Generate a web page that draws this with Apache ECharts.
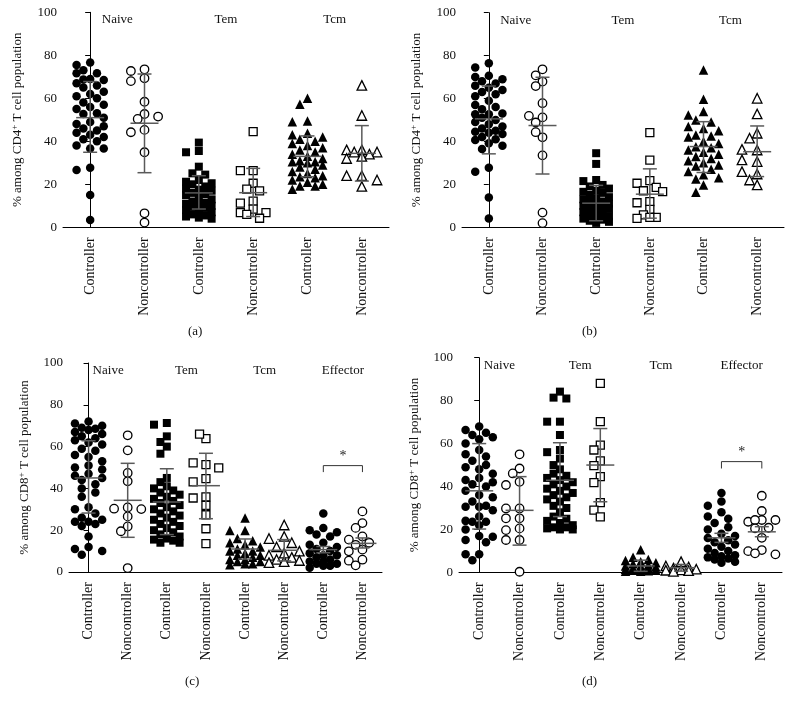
<!DOCTYPE html>
<html><head><meta charset="utf-8">
<script src="https://cdn.jsdelivr.net/npm/echarts@6/dist/echarts.min.js"></script>
<style>html,body{margin:0;padding:0;background:#fff}#c{width:794px;height:705px}</style>
</head><body><div id="c"></div>
<script>
// ---------- categories / labels ----------
const xCats = ['Controller', 'Noncontroller'];
const groups3 = ['Naive', 'Tem', 'Tcm'];
const groups4 = ['Naive', 'Tem', 'Tcm', 'Effector'];
const nameCD4 = '{t|% among CD4}{s|+}{t| T cell population}';
const nameCD8 = '{t|% among CD8}{s|+}{t| T cell population}';
const captions = ['(a)', '(b)', '(c)', '(d)'];

// ---------- panel (a): CD4 ----------
const a_naive_ctrl = [76.6,75.5,73,71.6,71.6,69,68.5,68.8,67,66,65,63,62,61,60,58,57,56,55,53,52.7,51,49,48,47,46,45,44,43,42,41,40,38,36.7,36.7,27.7,26.6,15,3.4];
const a_naive_non  = [73.5,72.7,69.3,68,58.4,52.7,50.4,51.5,45.3,44.2,34.9,6.5,2.2];
const a_tem_ctrl   = [39.4,35.5,34.9,28.2,25.1,24.5,22,21.2,20.5,20,19,18,17.5,17,16,15.5,15,14,13,12,11.5,11,10.5,10,9.5,9,8,7.5,7,6,5.5,5,4.5,4];
const a_tem_non    = [44.5,26.4,26.4,20.5,17.8,16.9,12.2,11.2,8.5,6.8,6.8,6,4.2];
const a_tcm_ctrl   = [60,57.2,49.5,49.1,43.7,43,42,41,40,39,38,37,36,35,34,33,32,31,30.5,30.5,30,29,28,27,26,25,24,23.5,23,22,21,20,19.2,19.2,17.7];
const a_tcm_non    = [66,52,36,36,35,35,34,33,32,24,24,22,19];
const a_bars = [[51,34.9,67.8],[48.4,25.4,71.3],[16,8.5,24],[16.1,5,27.4],[33,23.5,42.5],[34.4,21.5,47.3]];

// ---------- panel (b): CD4 ----------
const b_naive_ctrl = [76.4,74.4,70.6,70,69,68,67,66,65,64,63,62,61,59,57,56,55,53,52.6,52.6,51,50,49,48,47,46,45,44.5,44,43.5,42,41,40.6,39.1,38,36.5,27.7,25.9,13.8,4.1];
const b_naive_non  = [67.9,73.6,70.8,65.8,57.8,51.2,51.9,48.8,41.9,44.3,33.5,6.8,1.9];
const b_tem_ctrl   = [34.5,29.5,22,21.5,19.7,19,18,17,16.5,16,15,14,13.5,13,12,11.5,11,10.5,10,9.5,9,8.5,8,7,6.5,6,5,4.5,4,3.5,3,2.5,2];
const b_tem_non    = [44.1,31.3,21.7,20.5,18.6,17,16.6,11.9,11.4,8.3,5.7,4.6,4.1,4.6];
const b_tcm_ctrl   = [73.3,59.6,53.9,52.3,50,49,47,46,45,43,42.5,42,40,39,37.5,37,36,35,34,33,32,31,30,29,28.5,27,26,24.4,23,22.5,19.7,16.3];
const b_tcm_non    = [60.1,52.8,43.8,41.5,36,36.3,30.6,31.4,24.8,25.9,22,19.7];
const b_bars = [[50.5,34.2,65.8],[47.4,24.8,69.9],[11.2,3,19.5],[15.4,4.2,27.2],[37.6,25.5,49.2],[35.2,23.6,47.2]];

// ---------- panel (c): CD8 ----------
const c_naive_ctrl = [72,71,70,69,68.5,68,67,66,65,64,63,62,61,59,58,56,55,53,51,50,49,47,46,45,44,42,40,38,36,31,30,28,26,25,24,24,23,22,17,12,11,10,8.3];
const c_naive_non  = [65.4,58.2,47.4,43.4,30.9,30.3,30.1,26.6,21.8,19.5,1.9];
const c_tem_ctrl   = [71.3,70.5,64.9,62.2,60,56.6,45,43,41,40,39,38,37,36,35,34,33,32,31,30,29,28,27,26,25,24,23,22,21,20,19,18,17,16,15.5,15,14,14];
const c_tem_non    = [63.8,66,51.4,52.2,49.8,44.7,43.1,35.9,35.4,31.9,27.4,20.7,13.6];
const c_tcm_ctrl   = [25.8,19.8,19.8,16,15,14,13,12,11,10,10,9,8,8,7,6,6,5,5,4,4,3.5];
const c_tcm_non    = [22.5,17,16,14,12,10,9,8,7,6,5.5,5,4.5];
const c_eff_ctrl   = [28,21,20,19,18,17,14,13,12,11,10,9,8,8,7,6,5,5,4,4,3,3,2];
const c_eff_non    = [29,23.4,21.1,17,15.5,14,13,10.7,9.9,5.9,5.4,3.2];
const c_bars = [[45,28.2,62.8],[34.3,16.6,52],[33.5,17.9,49.4],[41.3,25.5,56.8],[11,6.2,15.8],[10.4,5.3,15.5],[10.7,9.2,12.2],[13.7,11.5,16.3]];
const c_bracket = [6, 7, 50.9, 47.8];

// ---------- panel (d): CD8 ----------
const d_naive_ctrl = [67.9,66.3,65,64,63,62,60,57,55,54,52,50,49,48,46,44,43,42,41,40,38,36,35,33,31,30.6,30.6,29,26,24,23.6,23.6,22,20,17,16.6,15.1,14,8.4,8.4,5.7];
const d_naive_non  = [55,48.4,46.1,42.2,40.7,29.8,29.8,25.2,25.2,20.5,19.7,15.1,15.1,0.3];
const d_tem_ctrl   = [84.2,81.4,81,70.2,70.2,64,57,56,53,50,48,46,45,44,43,42,41,40,39,38,37,36,35,34,33,31,30,28,26,25,24,23,22,21,21,20.5,20,20];
const d_tem_non    = [88,70.2,59.3,57,51.9,49.7,44.6,41.8,32.5,29,25.9];
const d_tcm_ctrl   = [10.5,7,6,5.5,5,4.5,4,3.5,3,3,2.5,2,2,1.5,1.5,1,1,0.8,0.5,0.5];
const d_tcm_non    = [5,3,2.5,2,1.5,1.2,1,0.8,0.5];
const d_eff_ctrl   = [37,33,31,28,26,25,23,21,20,18,17,16,15,14,13,12,11,10,9,8,7.5,7,6.5,6,5,4.5];
const d_eff_non    = [35.7,28.6,24.4,23.6,24.4,24.4,20.8,20.5,16.1,10.4,9.9,8.4,8.9];
const d_bars = [[38,20.2,60],[28.9,12.7,44.6],[42.9,26,60.4],[50,32.9,67],[3,0.5,5.7],[2.2,0.6,3.7],[16.1,14,18.2],[18.9,16.6,21.3]];
const d_bracket = [6, 7, 51.6, 48.4];

// ---------- layout ----------
const FONT = 'Liberation Serif';
const symbols = ['circle', 'rect', 'triangle', 'circle'];
const symSize = {circle: 8.5, rect: 8, triangle: 9.5};
const panels = [
  {grid:{left:63, top:12.3, width:326, height:215}, groups:groups3, yName:nameCD4, nameGap:38,
   series:[a_naive_ctrl,a_naive_non,a_tem_ctrl,a_tem_non,a_tcm_ctrl,a_tcm_non], bars:a_bars, bracket:null, cap:[196,333]},
  {grid:{left:462, top:12.7, width:322, height:214.5}, groups:groups3, yName:nameCD4, nameGap:38,
   series:[b_naive_ctrl,b_naive_non,b_tem_ctrl,b_tem_non,b_tcm_ctrl,b_tcm_non], bars:b_bars, bracket:null, cap:[590,333]},
  {grid:{left:69, top:363, width:313, height:209}, groups:groups4, yName:nameCD8, nameGap:37,
   series:[c_naive_ctrl,c_naive_non,c_tem_ctrl,c_tem_non,c_tcm_ctrl,c_tcm_non,c_eff_ctrl,c_eff_non], bars:c_bars, bracket:c_bracket, cap:[193,683]},
  {grid:{left:459, top:357.7, width:323, height:214.7}, groups:groups4, yName:nameCD8, nameGap:37,
   series:[d_naive_ctrl,d_naive_non,d_tem_ctrl,d_tem_non,d_tcm_ctrl,d_tcm_non,d_eff_ctrl,d_eff_non], bars:d_bars, bracket:d_bracket, cap:[590,683]}
];

// simple deterministic beeswarm (pixel offsets)
function swarm(vals, pxPerY, size) {
  const placed = [], out = [];
  const step = size * 0.8, minD = size * 0.95;
  const cands = [0, -1, 1, -2, 2];
  vals.forEach(v => {
    const y = v * pxPerY;
    let best = 0, bestScore = -1;
    for (const c of cands) {
      const x = c * step;
      let md = Infinity;
      for (const p of placed) { const d = Math.hypot(p.x - x, p.y - y); if (d < md) md = d; }
      if (md >= minD) { best = x; break; }
      if (md > bestScore) { bestScore = md; best = x; }
    }
    placed.push({x: best, y});
    out.push(best);
  });
  return out;
}

const grid = [], xAxis = [], yAxis = [], series = [], graphic = [];
panels.forEach((p, pi) => {
  const n = p.series.length;
  grid.push(Object.assign({containLabel:false}, p.grid));
  const xb = xAxis.length;
  xAxis.push({type:'category', gridIndex:pi, position:'bottom', boundaryGap:true,
    data: Array.from({length:n}, (_, i) => xCats[i % 2]),
    axisLine:{lineStyle:{color:'#000', width:1}},
    axisTick:{alignWithLabel:true, length:5, lineStyle:{color:'#000'}},
    axisLabel:{rotate:90, interval:0, margin:10, fontFamily:FONT, fontSize:14, color:'#111'}});
  xAxis.push({type:'value', gridIndex:pi, min:-0.5, max:n - 0.5, show:false});
  xAxis.push({type:'category', gridIndex:pi, position:'top', data:p.groups,
    axisLine:{show:false}, axisTick:{show:false}, splitLine:{show:false},
    axisLabel:{inside:true, margin:1, fontFamily:FONT, fontSize:13, color:'#111'}});
  yAxis.push({type:'value', gridIndex:pi, min:0, max:100, interval:20,
    name:p.yName, nameLocation:'middle', nameGap:p.nameGap,
    nameTextStyle:{fontFamily:FONT, fontSize:13, color:'#111',
      rich:{t:{fontFamily:FONT, fontSize:13, color:'#111', lineHeight:15},
            s:{fontFamily:FONT, fontSize:9, color:'#111', verticalAlign:'top', lineHeight:15}}},
    axisLine:{show:true, lineStyle:{color:'#000', width:1}},
    axisTick:{show:true, length:5, lineStyle:{color:'#000'}},
    splitLine:{show:false},
    axisLabel:{fontFamily:FONT, fontSize:13, color:'#111', margin:6}});
  const pxPerY = p.grid.height / 100, pxPerCat = p.grid.width / n;
  p.series.forEach((vals, i) => {
    const sym = symbols[Math.floor(i / 2)];
    const size = symSize[sym];
    const filled = i % 2 === 0;
    const offs = swarm(vals, pxPerY, size);
    series.push({type:'scatter', xAxisIndex:xb + 1, yAxisIndex:pi, symbol:sym, symbolSize:size,
      silent:true, z:2,
      itemStyle:{color: filled ? '#000' : '#fff', borderColor:'#000', borderWidth: filled ? 0 : 1.3, opacity:1},
      data: vals.map((v, k) => [i + offs[k] / pxPerCat, v])});
  });
  series.push({type:'custom', xAxisIndex:xb + 1, yAxisIndex:pi, z:5, silent:true,
    data: p.bars.map((b, i) => [i, b[0], b[1], b[2]]),
    renderItem: (params, api) => {
      const x = api.value(0);
      const pm = api.coord([x, api.value(1)]), pl = api.coord([x, api.value(2)]), ph = api.coord([x, api.value(3)]);
      const st = {stroke:'#5a5a5a', lineWidth:1.5};
      return {type:'group', children:[
        {type:'line', shape:{x1:pm[0] - 14, y1:pm[1], x2:pm[0] + 14, y2:pm[1]}, style:st},
        {type:'line', shape:{x1:pl[0], y1:pl[1], x2:ph[0], y2:ph[1]}, style:st},
        {type:'line', shape:{x1:pl[0] - 7, y1:pl[1], x2:pl[0] + 7, y2:pl[1]}, style:st},
        {type:'line', shape:{x1:ph[0] - 7, y1:ph[1], x2:ph[0] + 7, y2:ph[1]}, style:st}
      ]};
    }});
  if (p.bracket) {
    series.push({type:'custom', xAxisIndex:xb + 1, yAxisIndex:pi, z:6, silent:true,
      data:[p.bracket],
      renderItem: (params, api) => {
        const p1 = api.coord([api.value(0), api.value(2)]), p2 = api.coord([api.value(1), api.value(2)]);
        const d1 = api.coord([api.value(0), api.value(3)]), d2 = api.coord([api.value(1), api.value(3)]);
        return {type:'group', children:[
          {type:'polyline', shape:{points:[d1, p1, p2, d2]}, style:{stroke:'#333', lineWidth:1, fill:null}},
          {type:'text', style:{text:'*', x:(p1[0] + p2[0]) / 2, y:p1[1] - 2, textAlign:'center', textVerticalAlign:'bottom',
            font:'14px "Liberation Serif"', fill:'#222'}}
        ]};
      }});
  }
  graphic.push({type:'text', left:p.cap[0] - 8, top:p.cap[1] - 8,
    style:{text:captions[pi], font:'13px "Liberation Serif"', fill:'#111'}});
});

const chart = echarts.init(document.getElementById('c'), null, {renderer:'canvas'});
chart.setOption({animation:false, backgroundColor:'#fff', grid, xAxis, yAxis, series, graphic});
</script></body></html>
